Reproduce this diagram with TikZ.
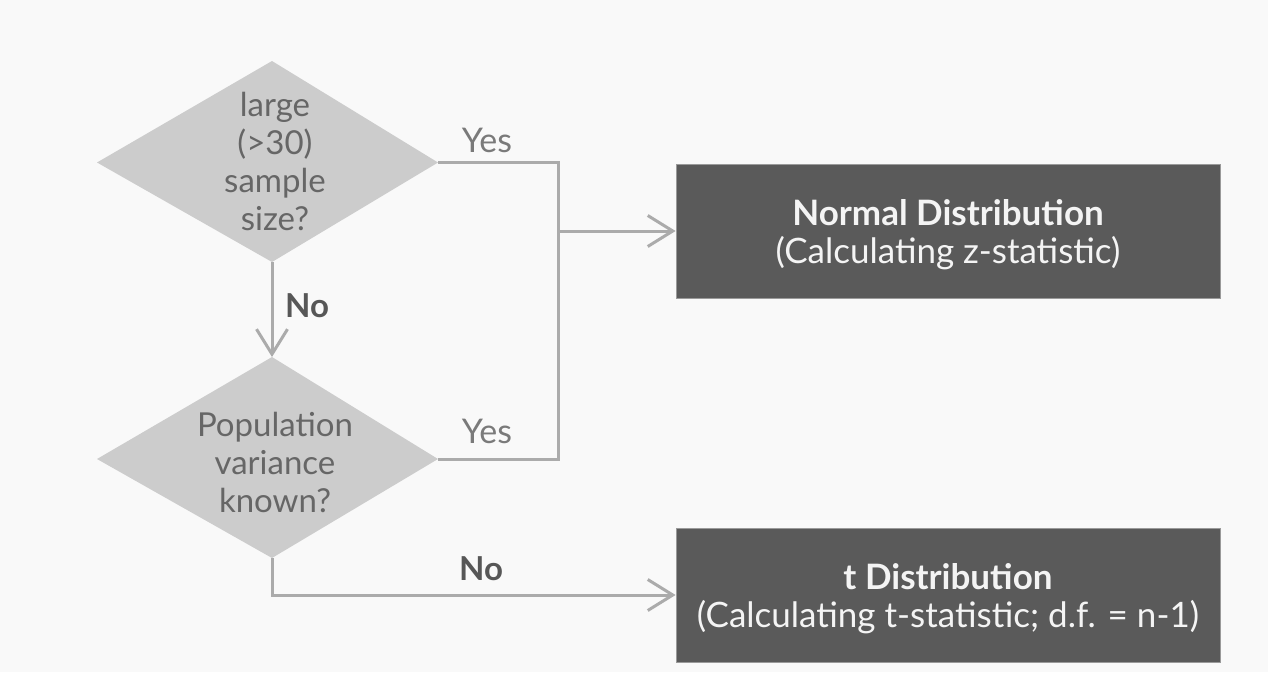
\documentclass[tikz,border=0pt]{standalone}
\usepackage{fontspec}
\setmainfont{Lato}
\usetikzlibrary{arrows.meta}
\definecolor{bgc}{HTML}{F9F9F9}
\definecolor{diafill}{HTML}{CCCCCC}
\definecolor{linec}{HTML}{ABABAB}
\definecolor{diatext}{HTML}{666666}
\definecolor{yestext}{HTML}{7A7A7A}
\definecolor{notext}{HTML}{575757}
\definecolor{boxfill}{HTML}{5A5A5A}
\definecolor{boxline}{HTML}{9A9A9A}
\definecolor{boxtext}{HTML}{F4F4F4}
\tikzset{
  diashape/.style={fill=diafill, draw=none},
  diatxt/.style={align=center, text=diatext, font=\fontsize{33}{38}\selectfont, inner sep=0pt},
  resbox/.style={rectangle, fill=boxfill, draw=boxline, line width=0.8pt, minimum width=544pt, minimum height=134pt},
  boxtxt/.style={align=center, text=boxtext, font=\fontsize{35}{38}\selectfont, inner sep=0pt},
  conn/.style={draw=linec, line width=3pt, line join=miter},
  arr/.style={conn, -{Straight Barb[length=25pt,width=31pt]}},
  yeslbl/.style={text=yestext, font=\fontsize{34}{38}\selectfont, inner sep=0pt},
  nolbl/.style={text=notext, font=\bfseries\fontsize{33}{38}\selectfont, inner sep=0pt}
}
\begin{document}
\begin{tikzpicture}[x=1pt,y=-1pt]
\fill[bgc] (0,0) rectangle (1268,672);
\useasboundingbox (0,0) rectangle (1268,672);
% decision 1
\coordinate (d1w) at (97,162.5);
\coordinate (d1n) at (272,61);
\coordinate (d1e) at (438,162.5);
\coordinate (d1s) at (272,262);
\fill[diashape] (d1w) -- (d1n) -- (d1e) -- (d1s) -- cycle;
\node[diatxt] (t1) at (275,161) {large\\(>30)\\sample\\size?};
% decision 2
\coordinate (d2w) at (97,459);
\coordinate (d2n) at (272,357);
\coordinate (d2e) at (438,459);
\coordinate (d2s) at (272,558);
\fill[diashape] (d2w) -- (d2n) -- (d2e) -- (d2s) -- cycle;
\node[diatxt] (t2) at (275,462) {Population\\variance\\known?};
% results
\node[resbox] (nb) at (948,231) {};
\node[boxtxt] (nbt) at (948,235) {\textbf{Normal Distribution}\\(Calculating z-statistic)};
\node[resbox] (tb) at (948,595) {};
\node[boxtxt] (tbt) at (948,599) {\textbf{t Distribution}\\(Calculating t-statistic; d.f. = n-1)};
% connectors
\coordinate (j) at (558.5,231);
\draw[conn] (d1e) -- (d1e -| j) -- (d2e -| j) -- (d2e);
\draw[arr] (j) -- (nb.west);
\draw[arr] (d1s) -- (d2n);
\draw[arr] (d2s) -- (d2s |- tb.west) -- (tb.west);
% labels
\node[yeslbl] (y1) at (487,140) {Yes};
\node[yeslbl] (y2) at (487,431) {Yes};
\node[nolbl] (n1) at (307,306) {No};
\node[nolbl] (n2) at (481,569) {No};
\end{tikzpicture}
\end{document}
